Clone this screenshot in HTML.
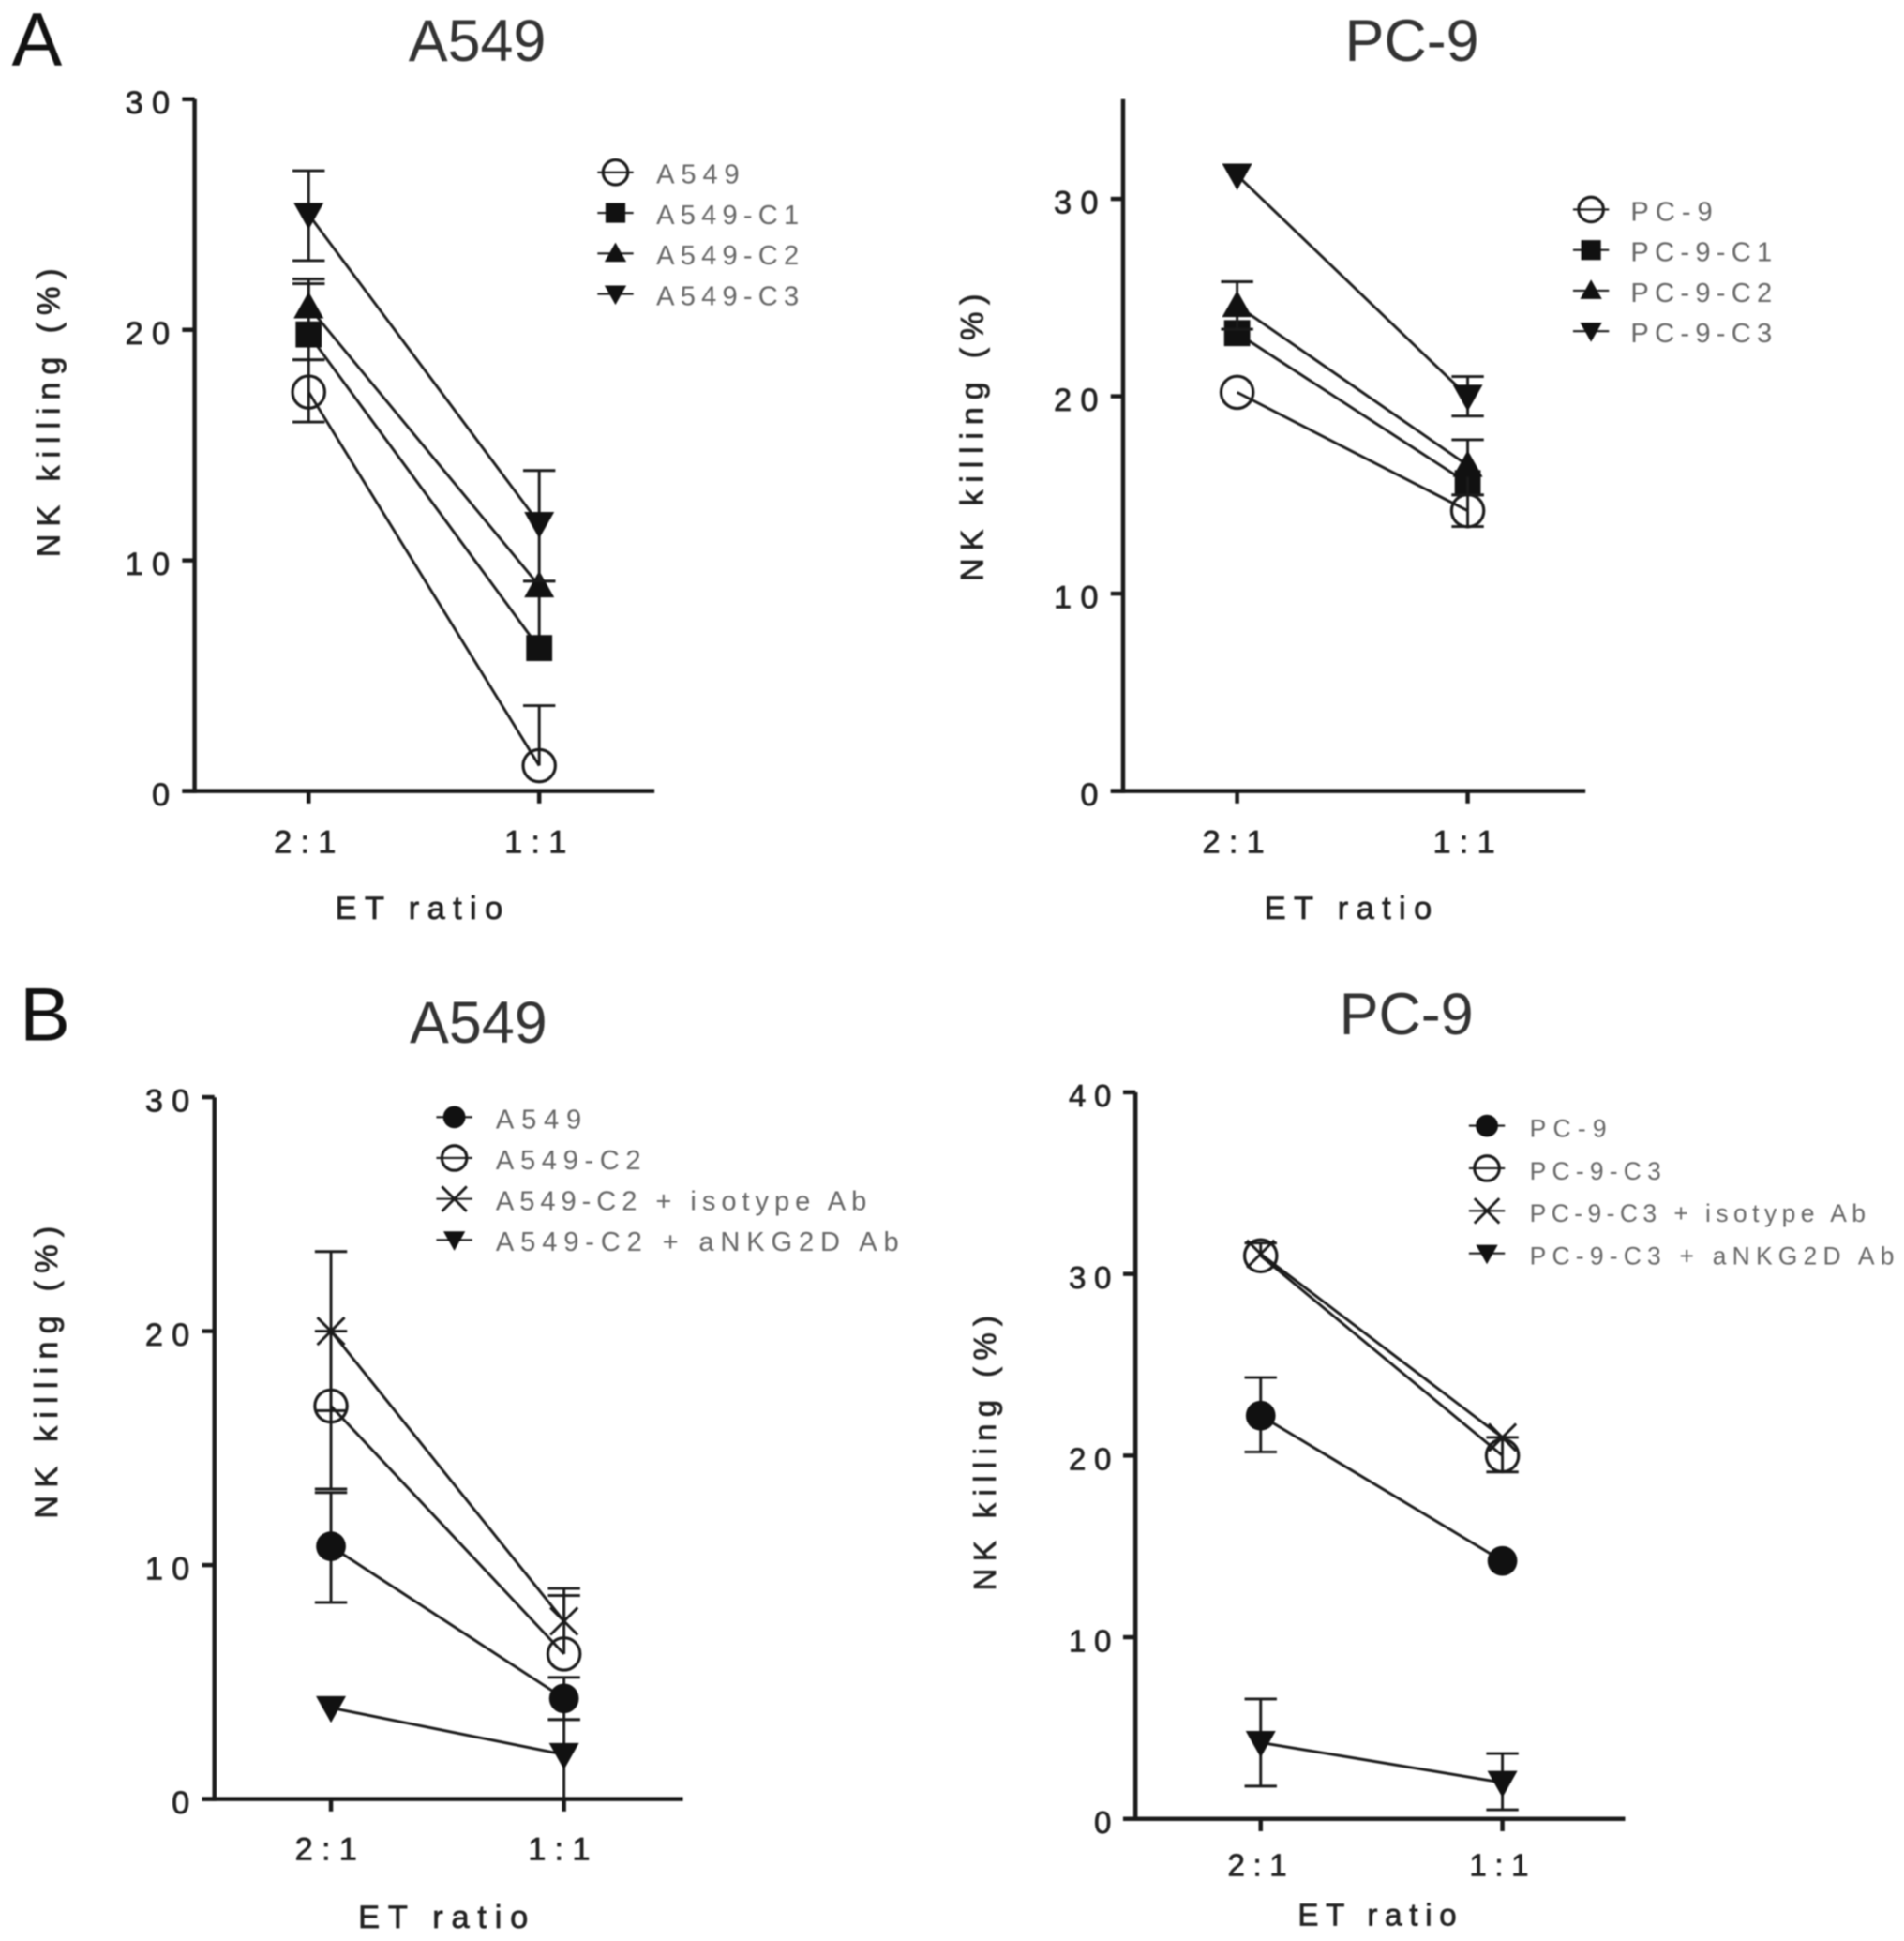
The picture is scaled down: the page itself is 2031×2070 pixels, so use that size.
<!DOCTYPE html>
<html lang="en">
<head>
<meta charset="utf-8">
<title>NK killing charts</title>
<style>
html,body{margin:0;padding:0;background:#fff;width:2031px;height:2070px;overflow:hidden}
svg{display:block;filter:blur(0.8px)}
text{font-family:"Liberation Sans",Arial,sans-serif}
</style>
</head>
<body>
<svg id="figure" xmlns="http://www.w3.org/2000/svg" width="2031" height="2070" viewBox="0 0 1536 1565.5">
<rect width="1536" height="1565.5" fill="#fff"/>
<text x="9.5" y="53" font-size="61" fill="#111">A</text>
<text x="16" y="839" font-size="61" fill="#111">B</text>
<text x="385" y="49" font-size="47.5" text-anchor="middle" fill="#333">A549</text>
<text x="1139" y="49" font-size="47.5" text-anchor="middle" fill="#333">PC-9</text>
<text x="386" y="841" font-size="47.5" text-anchor="middle" fill="#333">A549</text>
<text x="1134.5" y="834" font-size="47.5" text-anchor="middle" fill="#333">PC-9</text>
</svg>
<script>
// ---- Shared categories ----
const categories = ['2:1', '1:1'];

// ---- Panel A, A549 ----
const a1Ticks = [0, 10, 20, 30];
const a1Names = ['A549', 'A549-C1', 'A549-C2', 'A549-C3'];
const a1Parent = [17.3, 1.1];
const a1ParentHi = [18.7, 3.7];
const a1ParentLo = [16.0, null];
const a1C1 = [19.8, 6.2];
const a1C1Hi = [22.0, 9.1];
const a1C1Lo = [18.7, null];
const a1C2 = [21.0, 8.9];
const a1C2Hi = [22.2, null];
const a1C2Lo = [null, null];
const a1C3 = [25.0, 11.6];
const a1C3Hi = [26.9, 13.9];
const a1C3Lo = [23.0, 9.1];

// ---- Panel A, PC-9 ----
const a2Ticks = [0, 10, 20, 30];
const a2Names = ['PC-9', 'PC-9-C1', 'PC-9-C2', 'PC-9-C3'];
const a2Parent = [20.2, 14.2];
const a2ParentHi = [null, 15.0];
const a2ParentLo = [null, 13.4];
const a2C1 = [23.2, 15.6];
const a2C1Hi = [null, null];
const a2C1Lo = [null, null];
const a2C2 = [24.6, 16.5];
const a2C2Hi = [25.8, 17.8];
const a2C2Lo = [23.4, 15.0];
const a2C3 = [31.2, 20.0];
const a2C3Hi = [null, 21.0];
const a2C3Lo = [null, 19.0];

// ---- Panel B, A549 ----
const b1Ticks = [0, 10, 20, 30];
const b1Names = ['A549', 'A549-C2', 'A549-C2 + isotype Ab', 'A549-C2 + aNKG2D Ab'];
const b1Parent = [10.8, 4.3];
const b1ParentHi = [13.1, 5.2];
const b1ParentLo = [8.4, 3.4];
const b1C2 = [16.8, 6.2];
const b1C2Hi = [20.0, 8.7];
const b1C2Lo = [13.25, null];
const b1Iso = [20.0, 7.6];
const b1IsoHi = [23.4, 9.0];
const b1IsoLo = [16.6, null];
const b1Anti = [3.9, 1.9];
const b1AntiHi = [null, 3.4];
const b1AntiLo = [null, 0.0];

// ---- Panel B, PC-9 ----
const b2Ticks = [0, 10, 20, 30, 40];
const b2Names = ['PC-9', 'PC-9-C3', 'PC-9-C3 + isotype Ab', 'PC-9-C3 + aNKG2D Ab'];
const b2Parent = [22.2, 14.2];
const b2ParentHi = [24.3, null];
const b2ParentLo = [20.2, null];
const b2C3 = [31.0, 20.0];
const b2C3Hi = [null, 21.0];
const b2C3Lo = [null, 19.1];
const b2Iso = [31.1, 21.0];
const b2IsoHi = [31.7, null];
const b2IsoLo = [null, null];
const b2Anti = [4.2, 2.0];
const b2AntiHi = [6.6, 3.6];
const b2AntiLo = [1.8, 0.5];

const NS = 'http://www.w3.org/2000/svg';
const root = document.getElementById('figure');

function mk(tag, attrs, parent) {
  const el = document.createElementNS(NS, tag);
  for (const k in attrs) el.setAttribute(k, attrs[k]);
  parent.appendChild(el);
  return el;
}
function seg(parent, x1, y1, x2, y2, w) {
  return mk('line', { x1, y1, x2, y2, stroke: '#1a1a1a', 'stroke-width': w }, parent);
}

function drawMarker(parent, kind, x, y, s) {
  let el;
  if (kind === 'open') {
    el = mk('circle', { cx: x, cy: y, r: s, fill: 'none', stroke: '#1a1a1a', 'stroke-width': 2.4 }, parent);
  } else if (kind === 'dot') {
    el = mk('circle', { cx: x, cy: y, r: s, fill: '#111' }, parent);
  } else if (kind === 'square') {
    el = mk('rect', { x: x - s, y: y - s, width: 2 * s, height: 2 * s, fill: '#111' }, parent);
  } else if (kind === 'up') {
    el = mk('polygon', { points: `${x - s * 1.1},${y + s * 0.85} ${x + s * 1.1},${y + s * 0.85} ${x},${y - s * 1.1}`, fill: '#111' }, parent);
  } else if (kind === 'down') {
    el = mk('polygon', { points: `${x - s * 1.1},${y - s * 0.85} ${x + s * 1.1},${y - s * 0.85} ${x},${y + s * 1.1}`, fill: '#111' }, parent);
  } else {
    el = mk('path', { d: `M${x - s},${y - s}L${x + s},${y + s}M${x - s},${y + s}L${x + s},${y - s}`, fill: 'none', stroke: '#1a1a1a', 'stroke-width': 2.2 }, parent);
  }
  
  
  return el;
}

function drawPanel(p) {
  const g = mk('g', {}, root);
  
  

  const xScale = i => p.xs[0] + (p.xs[1] - p.xs[0]) * i / (categories.length - 1);
  const yScale = v => p.y0 - v * p.pxPerUnit;
  const strong = { 'stroke': '#222', 'stroke-width': 0.55, fill: '#222' };

  // series lines, error bars, markers
  p.series.forEach(s => {
    const sg = mk('g', {}, g);
    
    
    const line = seg(sg, xScale(0), yScale(s.v[0]), xScale(1), yScale(s.v[1]), 2.2);
    
    
    s.v.forEach((val, i) => {
      const x = xScale(i);
      [s.hi[i], s.lo[i]].forEach(e => {
        if (e === null) return;
        const stem = seg(sg, x, yScale(val), x, yScale(e), 2.2);
        
        
        const cap = seg(sg, x - p.cap, yScale(e), x + p.cap, yScale(e), 2.2);
        
        
      });
      drawMarker(sg, s.m, x, yScale(val), s.m === 'open' ? 13 : s.m === 'dot' ? 12 : s.m === 'square' ? 10.5 : 11);
    });
  });

  // axes
  const yAxis = seg(g, p.ax, p.y0 + 1.7, p.ax, p.top, 3.4);
  
  
  const xAxis = seg(g, p.ax - 10, p.y0, p.right, p.y0, 3.4);
  
  

  p.ticks.forEach(t => {
    const y = yScale(t);
    const tick = seg(g, p.ax - 10, y, p.ax, y, 3.4);
    
    
    const lab = mk('text', { x: p.ax - 13, y: y + 11.5, 'font-size': p.fs, 'text-anchor': 'end', 'letter-spacing': p.ls, ...strong }, g);
    lab.textContent = String(t);
    
    
  });

  categories.forEach((c, i) => {
    const x = xScale(i);
    const tick = seg(g, x, p.y0, x, p.y0 + 10, 3.4);
    
    
    const lab = mk('text', { x: x + p.xLabDx, y: p.xLabY, 'font-size': p.fs, 'text-anchor': 'middle', 'letter-spacing': p.ls, ...strong }, g);
    lab.textContent = c;
    
    
  });

  const xt = mk('text', { x: p.xTitle[0], y: p.xTitle[1], 'font-size': p.fs, 'text-anchor': 'middle', textLength: p.xTitle[2], lengthAdjust: 'spacing', ...strong }, g);
  xt.textContent = 'ET ratio';
  
  

  const yt = mk('text', { transform: `translate(${p.yTitle[0]},${p.yTitle[1]}) rotate(-90)`, 'font-size': p.fs, 'text-anchor': 'middle', textLength: p.yTitle[2], lengthAdjust: 'spacing', ...strong }, g);
  yt.textContent = 'NK killing (%)';
  
  

  // legend
  p.series.forEach((s, i) => {
    const y = p.leg.y + i * p.leg.dy;
    const e = mk('g', {}, g);
    
    
    const keyLine = seg(e, p.leg.x, y, p.leg.x + 29, y, 1.6);
    
    
    drawMarker(e, s.m, p.leg.x + 14.5, y, s.m === 'open' ? 10 : s.m === 'dot' ? 9 : s.m === 'x' ? 10 : 8);
    const t = mk('text', { x: p.leg.tx, y: y + 9, 'font-size': p.leg.fs, textLength: p.leg.w[i], lengthAdjust: 'spacing', fill: '#666' }, e);
    t.textContent = p.labels[i];
    
    
  });
}

drawPanel({
  name: 'chart-a-a549', ax: 157, top: 80, y0: 638, pxPerUnit: 18.6, right: 528, xs: [249, 435], cap: 13,
  ticks: a1Ticks, labels: a1Names, fs: 26, ls: 7, xLabDx: 0.5, xLabY: 688, xTitle: [338, 741, 135], yTitle: [48, 333, 233],
  leg: { x: 482, y: 139, dy: 32.7, tx: 529.5, fs: 22, w: [67, 115, 115, 115] },
  series: [
    { m: 'open', v: a1Parent, hi: a1ParentHi, lo: a1ParentLo },
    { m: 'square', v: a1C1, hi: a1C1Hi, lo: a1C1Lo },
    { m: 'up', v: a1C2, hi: a1C2Hi, lo: a1C2Lo },
    { m: 'down', v: a1C3, hi: a1C3Hi, lo: a1C3Lo }
  ]
});
drawPanel({
  name: 'chart-a-pc9', ax: 906, top: 80, y0: 638, pxPerUnit: 15.92, right: 1279, xs: [998, 1184], cap: 13,
  ticks: a2Ticks, labels: a2Names, fs: 26, ls: 7, xLabDx: 0.5, xLabY: 688, xTitle: [1087.5, 741, 135], yTitle: [793, 353, 232],
  leg: { x: 1269, y: 169, dy: 32.7, tx: 1315.5, fs: 22, w: [66, 114, 114, 114] },
  series: [
    { m: 'open', v: a2Parent, hi: a2ParentHi, lo: a2ParentLo },
    { m: 'square', v: a2C1, hi: a2C1Hi, lo: a2C1Lo },
    { m: 'up', v: a2C2, hi: a2C2Hi, lo: a2C2Lo },
    { m: 'down', v: a2C3, hi: a2C3Hi, lo: a2C3Lo }
  ]
});
drawPanel({
  name: 'chart-b-a549', ax: 173, top: 885, y0: 1451, pxPerUnit: 18.87, right: 551, xs: [267, 455], cap: 13,
  ticks: b1Ticks, labels: b1Names, fs: 26, ls: 7, xLabDx: -0.5, xLabY: 1500, xTitle: [357.5, 1555, 137], yTitle: [46, 1107, 236],
  leg: { x: 352, y: 901, dy: 33, tx: 400, fs: 22, w: [69, 117, 299, 325] },
  series: [
    { m: 'dot', v: b1Parent, hi: b1ParentHi, lo: b1ParentLo },
    { m: 'open', v: b1C2, hi: b1C2Hi, lo: b1C2Lo },
    { m: 'x', v: b1Iso, hi: b1IsoHi, lo: b1IsoLo },
    { m: 'down', v: b1Anti, hi: b1AntiHi, lo: b1AntiLo }
  ]
});
drawPanel({
  name: 'chart-b-pc9', ax: 916, top: 881, y0: 1467, pxPerUnit: 14.65, right: 1311, xs: [1017, 1212], cap: 13,
  ticks: b2Ticks, labels: b2Names, fs: 25, ls: 6.5, xLabDx: 0.5, xLabY: 1513, xTitle: [1111, 1553, 128], yTitle: [803, 1172, 222],
  leg: { x: 1185, y: 908, dy: 34.3, tx: 1234, fs: 20, w: [62, 106, 271, 294] },
  series: [
    { m: 'dot', v: b2Parent, hi: b2ParentHi, lo: b2ParentLo },
    { m: 'open', v: b2C3, hi: b2C3Hi, lo: b2C3Lo },
    { m: 'x', v: b2Iso, hi: b2IsoHi, lo: b2IsoLo },
    { m: 'down', v: b2Anti, hi: b2AntiHi, lo: b2AntiLo }
  ]
});
</script>
</body>
</html>
